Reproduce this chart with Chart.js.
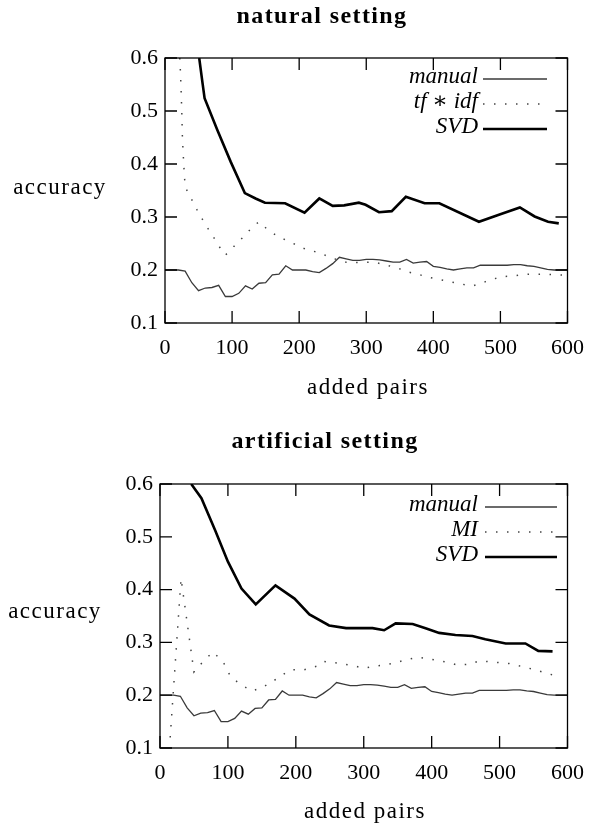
<!DOCTYPE html>
<html>
<head>
<meta charset="utf-8">
<script src="https://cdn.jsdelivr.net/npm/chart.js@4"></script>
<style>
  body { margin: 0; background: #fff; }
  canvas { position: absolute; left: 0; }
</style>
</head>
<body>
<canvas id="natural" width="596" height="414" style="top:0px"></canvas>
<canvas id="artificial" width="596" height="415" style="top:414px"></canvas>
<script>
// tick labels
const xTicks = [0, 100, 200, 300, 400, 500, 600];
const yTicks = [0.1, 0.2, 0.3, 0.4, 0.5, 0.6];

// manual (same in both settings)
const manualX = [0, 10, 20, 30, 40, 50, 60, 70, 80, 90,
    100, 110, 120, 130, 140, 150, 160, 170, 180, 190,
    200, 210, 220, 230, 240, 250, 260, 270, 280, 290,
    300, 310, 320, 330, 340, 350, 360, 370, 380, 390,
    400, 410, 420, 430, 440, 450, 460, 470, 480, 490,
    500, 510, 520, 530, 540, 550, 560, 570, 580, 590, 600];
const manualY = [.200, .200, .200, .198, .176, .161, .166, .167, .171, .150,
    .150, .156, .170, .164, .175, .176, .191, .192, .208, .200,
    .200, .200, .197, .195, .203, .212, .224, .221, .218, .218,
    .220, .220, .219, .217, .215, .215, .220, .213, .215, .216,
    .207, .205, .202, .200, .202, .204, .204, .209, .209, .209,
    .209, .209, .210, .210, .208, .207, .204, .201, .200, .200, .200];

// natural setting
const tfidfX = [22, 23, 24, 25, 26, 28, 30, 39, 48, 60, 71, 81, 90, 103, 118, 131, 140, 154, 169, 188,
    210, 229, 250, 272, 289, 311, 331, 353, 360, 380, 390, 409, 448, 459, 478, 500, 520, 542, 561, 581, 600];
const tfidfY = [.600, .574, .540, .499, .448, .398, .357, .335, .313, .286, .265, .244, .228, .245, .264, .282, .291, .275, .263, .252,
    .239, .233, .222, .214, .214, .215, .209, .201, .197, .191, .187, .182, .172, .170, .178, .187, .189, .192, .192, .191, .190];
const svdNatX = [51, 56, 59, 78, 98, 119, 135, 149, 179, 208, 230, 250, 267, 289, 299, 319, 338, 359, 387, 409, 468, 502, 529, 551, 571, 587];
const svdNatY = [.600, .552, .524, .464, .404, .345, .335, .327, .326, .308, .335, .321, .322, .327, .323, .309, .311, .338, .326, .326, .291, .306, .318, .301, .291, .288];

// artificial setting
const miX = [15, 31, 50, 63, 78, 93, 104, 117, 135, 150, 167, 192, 212, 231, 241, 261, 288, 299, 319, 342,
    362, 380, 399, 420, 439, 457, 470, 489, 514, 534, 553, 570, 580];
const miY = [.120, .421, .244, .263, .282, .263, .235, .222, .208, .214, .227, .248, .248, .255, .264, .261, .255, .251, .255, .260,
    .267, .272, .268, .263, .257, .259, .265, .263, .260, .254, .248, .241, .238];
const svdArtX = [46, 61, 81, 100, 120, 141, 170, 198, 220, 249, 274, 293, 313, 330, 347, 372, 391, 411, 435, 460, 479, 509, 538, 557, 578];
const svdArtY = [.600, .573, .513, .453, .402, .372, .408, .383, .353, .332, .327, .327, .327, .323, .336, .335, .327, .318, .314, .312, .306, .298, .298, .284, .283];

const pts = (xs, ys) => xs.map((x, i) => ({ x: x, y: ys[i] }));

const serif = '"Liberation Serif", "DejaVu Serif", serif';

// box, inner ticks, titles and the key, drawn the gnuplot way
const framePlugin = {
    id: 'frame',
    afterDraw(chart, args, o) {
        const { ctx, chartArea: a, scales: { x, y } } = chart;
        ctx.save();
        ctx.strokeStyle = '#000';
        ctx.lineWidth = 1.3;
        ctx.strokeRect(a.left, a.top, a.right - a.left, a.bottom - a.top);
        ctx.beginPath();
        x.ticks.forEach(t => {
            const px = x.getPixelForValue(t.value);
            ctx.moveTo(px, a.bottom); ctx.lineTo(px, a.bottom - 12);
            ctx.moveTo(px, a.top); ctx.lineTo(px, a.top + 12);
        });
        y.ticks.forEach(t => {
            const py = y.getPixelForValue(t.value);
            ctx.moveTo(a.left, py); ctx.lineTo(a.left + 12, py);
            ctx.moveTo(a.right, py); ctx.lineTo(a.right - 12, py);
        });
        ctx.stroke();

        ctx.fillStyle = '#000';
        ctx.textBaseline = 'middle';
        ctx.textAlign = 'center';
        ctx.letterSpacing = '1.4px';
        ctx.font = 'bold 24px ' + serif;
        ctx.fillText(o.title, o.titleX, o.titleY);
        ctx.letterSpacing = '1.5px';
        ctx.font = '23px ' + serif;
        ctx.fillText('accuracy', o.yTitleX, o.yTitleY);
        ctx.fillText('added pairs', o.xTitleX, o.xTitleY);
        ctx.letterSpacing = '0px';

        ctx.textAlign = 'right';
        ctx.font = 'italic 23px ' + serif;
        chart.data.datasets.forEach((ds, i) => {
            const ly = o.keyY + i * o.keyGap;
            ctx.fillText(ds.label, o.keyX, ly);
            ctx.save();
            ctx.strokeStyle = ds.borderColor;
            ctx.lineWidth = ds.borderWidth;
            ctx.setLineDash(ds.borderDash || []);
            ctx.beginPath();
            ctx.moveTo(o.sampleX0, ly + 2);
            ctx.lineTo(o.sampleX1, ly + 2);
            ctx.stroke();
            ctx.restore();
        });
        ctx.restore();
    }
};

function makeChart(id, datasets, box, frame) {
    return new Chart(document.getElementById(id), {
        type: 'line',
        data: { datasets: datasets },
        options: {
            responsive: false,
            animation: false,
            devicePixelRatio: 1,
            layout: { padding: { top: box.top, right: box.right, left: 0, bottom: 0 } },
            elements: { point: { radius: 0 }, line: { tension: 0 } },
            plugins: { legend: { display: false }, tooltip: { enabled: false }, frame: frame },
            scales: {
                x: {
                    type: 'linear', min: 0, max: 600,
                    afterBuildTicks: s => { s.ticks = xTicks.map(v => ({ value: v })); },
                    afterFit: s => { s.height = box.xHeight; },
                    grid: { display: false, drawTicks: false },
                    border: { display: false },
                    ticks: { color: '#000', padding: 12, maxRotation: 0, font: { family: serif, size: 22 }, callback: v => String(v) }
                },
                y: {
                    min: 0.1, max: 0.6,
                    afterBuildTicks: s => { s.ticks = yTicks.map(v => ({ value: v })); },
                    afterFit: s => { s.width = box.yWidth; },
                    grid: { display: false, drawTicks: false },
                    border: { display: false },
                    ticks: { color: '#000', padding: 7, font: { family: serif, size: 22 }, callback: v => v.toFixed(1) }
                }
            }
        },
        plugins: [framePlugin]
    });
}

const manualStyle = { borderColor: '#3a3a3a', borderWidth: 1.3 };
const dotStyle = { borderColor: '#444', borderWidth: 1.5, borderDash: [1.5, 9.5] };
const svdStyle = { borderColor: '#000', borderWidth: 2.6 };

makeChart('natural', [
    Object.assign({ label: 'manual', data: pts(manualX, manualY) }, manualStyle),
    Object.assign({ label: 'tf \u2217 idf', data: pts(tfidfX, tfidfY) }, dotStyle),
    Object.assign({ label: 'SVD', data: pts(svdNatX, svdNatY) }, svdStyle)
], { top: 58, right: 23, yWidth: 165, xHeight: 91 }, {
    title: 'natural setting', titleX: 322, titleY: 17,
    yTitleX: 60, yTitleY: 188, xTitleX: 368, xTitleY: 388,
    keyX: 478, keyY: 77, keyGap: 25, sampleX0: 483, sampleX1: 547
});

makeChart('artificial', [
    Object.assign({ label: 'manual', data: pts(manualX, manualY) }, manualStyle),
    Object.assign({ label: 'MI', data: pts(miX, miY) }, dotStyle),
    Object.assign({ label: 'SVD', data: pts(svdArtX, svdArtY) }, svdStyle)
], { top: 70, right: 27, yWidth: 160, xHeight: 81 }, {
    title: 'artificial setting', titleX: 325, titleY: 28,
    yTitleX: 55, yTitleY: 198, xTitleX: 365, xTitleY: 398,
    keyX: 478, keyY: 91, keyGap: 25, sampleX0: 485, sampleX1: 557
});
</script>
</body>
</html>
